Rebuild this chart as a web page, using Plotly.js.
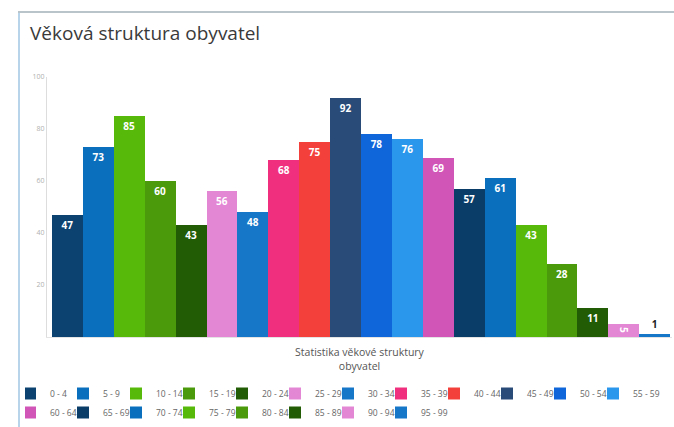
<!DOCTYPE html>
<html>
<head>
<meta charset="utf-8">
<script src="https://cdn.plot.ly/plotly-3.0.1.min.js"></script>
<style>html,body{margin:0;padding:0;background:#fff;}#chart{width:674px;height:427px;}</style>
</head>
<body>
<div id="chart"></div>
<script>
const ageGroups = ["0 - 4","5 - 9","10 - 14","15 - 19","20 - 24","25 - 29","30 - 34","35 - 39","40 - 44","45 - 49","50 - 54","55 - 59","60 - 64","65 - 69","70 - 74","75 - 79","80 - 84","85 - 89","90 - 94","95 - 99"];
const population = [47,73,85,60,43,56,48,68,75,92,78,76,69,57,61,43,28,11,5,1];
const barColors = ["#0b426f","#0a70bd","#57ba0b","#4a9a0b","#225c04","#e386d4","#1677c8","#f0307f","#f4403b","#284b78","#0f66db","#2a96ec","#d155b7","#0a3d68","#0a70bd","#57ba0b","#4a9a0b","#225c04","#e386d4","#1677c8"];

const traces = ageGroups.map((g, i) => ({
  type: 'bar',
  name: g,
  x: [g],
  y: [population[i]],
  text: [String(population[i])],
  textposition: population[i] < 3 ? 'outside' : 'inside',
  insidetextanchor: 'end',
  constraintext: 'none',
  cliponaxis: false,
  textfont: {family: 'Open Sans, sans-serif', size: 10, color: '#ffffff', weight: 'bold'},
  outsidetextfont: {family: 'Open Sans, sans-serif', size: 10, color: '#222222', weight: 'bold'},
  marker: {color: barColors[i], line: {width: 0}},
  hoverinfo: 'name+y'
}));

const L = 47, R = 2, T = 77, B = 90, W = 674, H = 427;
const pw = W - L - R, ph = H - T - B;
const px = v => (v - L) / pw;
const py = v => (H - B - v) / ph;

const layout = {
  width: W, height: H,
  margin: {l: L, r: R, t: T, b: B, pad: 0, autoexpand: false},
  paper_bgcolor: '#ffffff',
  plot_bgcolor: '#ffffff',
  font: {family: 'Open Sans, sans-serif', color: '#555'},
  title: {
    text: 'Věková struktura obyvatel',
    font: {family: 'Open Sans, sans-serif', size: 19, color: '#3a3a3a'},
    x: 30 / W, xanchor: 'left', xref: 'container',
    y: 1 - 33 / H, yanchor: 'middle', yref: 'container'
  },
  barmode: 'overlay',
  bargap: 0,
  showlegend: true,
  legend: {
    orientation: 'h',
    x: px(25), xanchor: 'left',
    y: py(379), yanchor: 'top',
    font: {family: 'Open Sans, sans-serif', size: 8.5, color: '#666666'},
    indentation: -15,
    entrywidth: 23, entrywidthmode: 'pixels',
    traceorder: 'normal',
    itemclick: false, itemdoubleclick: false
  },
  xaxis: {
    type: 'category',
    range: [-0.66, 19.56],
    showticklabels: false,
    ticks: '',
    showgrid: false,
    zeroline: false,
    showline: true,
    linecolor: '#e4e4e4',
    linewidth: 1,
    title: {
      text: 'Statistika věkové struktury<br>obyvatel',
      font: {family: 'Open Sans, sans-serif', size: 10.5, color: '#555555'},
      standoff: 11
    }
  },
  yaxis: {
    range: [0, 100],
    tickvals: [20, 40, 60, 80, 100],
    tickfont: {family: 'Open Sans, sans-serif', size: 7, color: '#b0b0b0'},
    ticks: '',
    showgrid: false,
    zeroline: false,
    showline: true,
    linecolor: '#dddddd',
    linewidth: 1
  },
  shapes: [
    {type: 'line', xref: 'paper', yref: 'paper', x0: px(19), x1: px(19), y0: py(11), y1: py(427), line: {color: '#b8d4ea', width: 2}},
    {type: 'line', xref: 'paper', yref: 'paper', x0: px(18), x1: px(674), y0: py(12), y1: py(12), line: {color: '#b8c4ca', width: 2}}
  ]
};

Plotly.newPlot('chart', traces, layout, {displayModeBar: false, staticPlot: true});
</script>
</body>
</html>
